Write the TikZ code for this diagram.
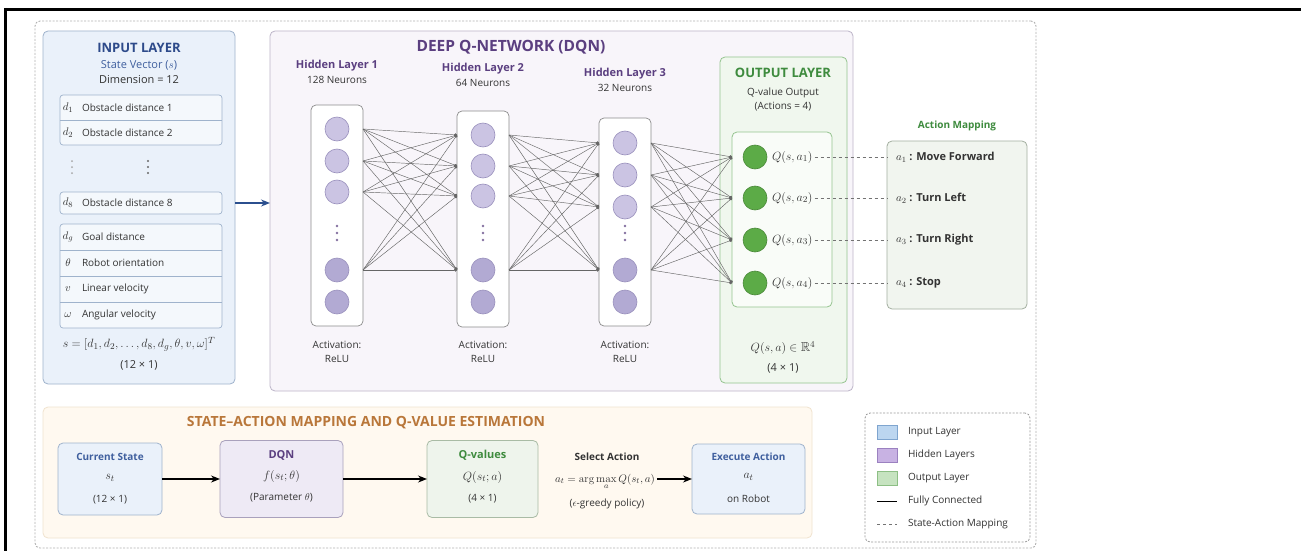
\documentclass[tikz,border=0pt]{standalone}
\usepackage{amssymb}
\usepackage[no-math]{fontspec}
\setmainfont{Open Sans}
\usetikzlibrary{shapes,arrows,arrows.meta,positioning}

\definecolor{inblue}{HTML}{EAF1FA}
\definecolor{inedge}{HTML}{9FB3CC}
\definecolor{intitle}{HTML}{2D4A8A}
\definecolor{inmid}{HTML}{3F5F9E}
\definecolor{arrowblue}{HTML}{2B4F8E}
\definecolor{dqnfill}{HTML}{F8F5FA}
\definecolor{dqnedge}{HTML}{BDB5C9}
\definecolor{dqntitle}{HTML}{5B3F80}
\definecolor{neuron}{HTML}{CBC4E3}
\definecolor{neurondk}{HTML}{B2AAD3}
\definecolor{neuronedge}{HTML}{9990BC}
\definecolor{outfill}{HTML}{F0F7EE}
\definecolor{outedge}{HTML}{95C48F}
\definecolor{outtitle}{HTML}{3E8B3E}
\definecolor{qgreen}{HTML}{5CAB47}
\definecolor{mapfill}{HTML}{F1F5EF}
\definecolor{mapedge}{HTML}{A3AFA0}
\definecolor{estfill}{HTML}{FFF9F0}
\definecolor{estedge}{HTML}{F0E3CF}
\definecolor{esttitle}{HTML}{B9773A}
\definecolor{dqnbfill}{HTML}{EEEAF5}
\definecolor{dqnbedge}{HTML}{A9A1BC}
\definecolor{qvfill}{HTML}{EEF4EC}
\definecolor{qvedge}{HTML}{A9BBA5}
\definecolor{txt}{HTML}{333333}
\definecolor{swblue}{HTML}{BCD6F0}
\definecolor{swblueedge}{HTML}{7FA5CF}
\definecolor{swpurple}{HTML}{C8B2E3}
\definecolor{swpurpleedge}{HTML}{9B81C0}
\definecolor{swgreen}{HTML}{C6E3C0}
\definecolor{swgreenedge}{HTML}{8DBF85}

\newcommand{\fsHead}{\fontsize{15.5}{17}\selectfont}
\newcommand{\fsTitle}{\fontsize{13}{15}\selectfont}
\newcommand{\fsText}{\fontsize{11}{13}\selectfont}
\newcommand{\fsSmall}{\fontsize{10}{12}\selectfont}
\newcommand{\fsMath}{\fontsize{13}{15}\selectfont}

\begin{document}
\begin{tikzpicture}[
    x=1pt, y=-1pt,
    every node/.style={inner sep=0pt, outer sep=0pt, text=txt},
    panel/.style={rectangle, draw, rounded corners=5pt, anchor=north west, line width=0.8pt},
    stepbox/.style={rectangle, draw, rounded corners=5pt, line width=0.8pt},
    rowbox/.style={rectangle, draw=inedge, fill=inblue!50!white, rounded corners=3pt, anchor=north west, line width=0.7pt},
    col/.style={rectangle, draw=black!45, fill=white, rounded corners=5pt, anchor=north, minimum width=52pt, line width=0.7pt},
    neuron/.style={circle, minimum size=24pt, fill=neuron, draw=neuronedge, line width=0.6pt},
    qnode/.style={circle, minimum size=24pt, fill=qgreen, draw=qgreen!80!black, line width=0.6pt},
    sym/.style={font=\fsText},
    lbl/.style={anchor=west, font=\fsSmall},
    link/.style={draw=black!60, line width=0.45pt, -{Circle[length=3pt]}},
    arrow/.style={-{Stealth[length=9pt, width=7pt]}, line width=1.3pt},
    maplink/.style={draw=black!55, dashed, line width=0.7pt}
]

\useasboundingbox (0,0) rectangle (1301,551);
\fill[white] (0,0) rectangle (1301,551);
\draw[line width=3pt] (4,9.5) -- (1301,9.5);
\draw[line width=3pt] (5.5,8) -- (5.5,551);
\node[panel, draw=black!30, dash pattern=on 2pt off 1.5pt, line width=0.9pt, minimum width=1001pt, minimum height=527pt] (frame) at (35,21) {};

% input layer
\node[panel, fill=inblue, draw=inedge, minimum width=192pt, minimum height=353pt] (inp) at (43,31) {};
\node[font=\bfseries\fsTitle, text=intitle] (inptitle) at (139,48) {INPUT LAYER};
\node[font=\fsText, text=inmid] (svec) at (139,65) {State Vector ($s$)};
\node[font=\fsText] (dim) at (139,80) {Dimension = 12};

\node[rowbox, minimum width=162pt, minimum height=50pt] (grpa) at (60,95) {};
\draw[inedge, line width=0.6pt] (60,120) -- (222,120);
\node[sym] (sa1) at (68,107.5) {$d_1$};
\node[lbl] (la1) at (82,107.5) {Obstacle distance 1};
\node[sym] (sa2) at (68,132.5) {$d_2$};
\node[lbl] (la2) at (82,132.5) {Obstacle distance 2};
\foreach \dy in {-6,0,6}{
  \fill[black!35] (72,{167+\dy}) circle (1pt);
  \fill[black!60] (148,{167+\dy}) circle (1.1pt);
}
\node[rowbox, minimum width=162pt, minimum height=22pt] (d8box) at (60,192) {};
\node[sym] (s8) at (68,203) {$d_8$};
\node[lbl] (l8) at (82,203) {Obstacle distance 8};
\node[rowbox, minimum width=162pt, minimum height=104pt] (grpb) at (60,224) {};
\foreach \y in {250,276,302} \draw[inedge, line width=0.6pt] (60,\y) -- (222,\y);
\foreach \sy/\lab [count=\i] in {d_g/Goal distance, \theta/Robot orientation, v/Linear velocity, \omega/Angular velocity}{
  \node[sym] (sb\i) at (68,{211+26*\i}) {$\sy$};
  \node[lbl] (lb\i) at (82,{211+26*\i}) {\lab};
}
\node[font=\fontsize{12.3}{14}\selectfont] (svecf) at (139,344) {$s=[d_1,d_2,\dots,d_8,d_g,\theta,v,\omega]^{T}$};
\node[font=\fsText] (sdim) at (139,365) {(12 × 1)};

% deep q-network
\node[panel, fill=dqnfill, draw=dqnedge, minimum width=583pt, minimum height=360pt] (dqn) at (270,31) {};
\draw[arrow, draw=arrowblue] (d8box.east -| inp.east) -- (d8box.east -| dqn.west);
\node[font=\bfseries\fsHead, text=dqntitle] (dqntitle) at (511,47) {DEEP Q-NETWORK (DQN)};

\foreach \c/\cx/\top/\h/\ya/\yb/\yc/\ty/\nn in {1/337/105/221/129/161/192/66/128, 2/483/111/216/135/166/196/69/64, 3/625/118/208/143/175/207/74/32}{
  \node[col, minimum height=\h pt] (col\c) at (\cx,\top) {};
  \node[font=\bfseries\fsText, text=dqntitle] (ht\c) at (\cx,\ty) {Hidden Layer \c};
  \node[font=\fsSmall] (hn\c) at (\cx,{\ty+14}) {\nn\ Neurons};
  \foreach \y [count=\k] in {\ya,\yb,\yc} \node[neuron] (h\c-\k) at (\cx,\y) {};
  \node[neuron, fill=neurondk] (h\c-4) at (\cx,270) {};
  \node[neuron, fill=neurondk] (h\c-5) at (\cx,302) {};
  \foreach \dy in {-7,0,7} \fill[dqntitle!75] (\cx,{233+\dy}) circle (1.3pt);
  \node[font=\fsSmall] (act\c) at (\cx,345) {Activation:};
  \node[font=\fsSmall] (relu\c) at (\cx,359) {ReLU};
}

% output layer
\node[panel, fill=outfill, draw=outedge, minimum width=127pt, minimum height=326pt] (outp) at (720,57) {};
\node[font=\bfseries\fsTitle, text=outtitle] (outtitle) at (783,73) {OUTPUT LAYER};
\node[font=\fsSmall] (qout) at (783,93) {Q-value Output};
\node[font=\fsSmall] (qact) at (783,107) {(Actions = 4)};
\node[panel, fill=white!60!outfill, draw=outedge, minimum width=100pt, minimum height=175pt] (qbox) at (732,132) {};
\foreach \y [count=\k] in {157,198,240,283}{
  \node[qnode] (q\k) at (755,\y) {};
  \node[anchor=west, font=\fsMath] (ql\k) at (772,\y) {$Q(s,a_{\k})$};
}
\node[font=\fsMath] (qdom) at (783,348) {$Q(s,a)\in\mathbb{R}^4$};
\node[font=\fsText] (qdim) at (783,368) {(4 × 1)};

% fully connected links
\foreach \i in {1,...,4}{
  \foreach \j in {1,...,4}{
    \draw[link] (col1.east |- h1-\i) -- (col2.west |- h2-\j);
    \draw[link] (col2.east |- h2-\i) -- (col3.west |- h3-\j);
    \draw[link] (col3.east |- h3-\i) -- (qbox.west |- q\j);
  }
}

% action mapping
\node[font=\bfseries\fsSmall, text=outtitle] (amtitle) at (957,126) {Action Mapping};
\node[panel, fill=mapfill, draw=mapedge, minimum width=140pt, minimum height=168pt] (amap) at (887,141) {};
\foreach \lab [count=\k] in {Move Forward, Turn Left, Turn Right, Stop}{
  \node[anchor=west, font=\bfseries\fsText, xshift=9pt] (am\k) at (amap.west |- q\k) {$a_{\k}$ : \lab};
  \draw[maplink, shorten <=2pt] (ql\k.east) -- (ql\k.east -| amap.west);
}

% state-action mapping
\node[panel, fill=estfill, draw=estedge, minimum width=769pt, minimum height=131pt] (est) at (43,407) {};
\node[font=\bfseries\fontsize{14}{16}\selectfont, text=esttitle] (esttitle) at (366,423) {STATE–ACTION MAPPING AND Q-VALUE ESTIMATION};

\node[stepbox, fill=inblue, draw=inedge, minimum width=104pt, minimum height=72pt] (cs) at (110,479) {};
\node[font=\bfseries\fsSmall, text=inmid] (cs1) at (110,457) {Current State};
\node[font=\fsMath] (cs2) at (110,478) {$s_t$};
\node[font=\fsSmall] (cs3) at (110,500) {(12 × 1)};

\node[stepbox, fill=dqnbfill, draw=dqnbedge, minimum width=123pt, minimum height=77pt] (dqnb) at (281.5,479) {};
\node[font=\bfseries\fsText, text=dqntitle] (dq1) at (281.5,455) {DQN};
\node[font=\fsMath] (dq2) at (281.5,476) {$f(s_t;\theta)$};
\node[font=\fsSmall] (dq3) at (281.5,498) {(Parameter $\theta$)};

\node[stepbox, fill=qvfill, draw=qvedge, minimum width=111pt, minimum height=77pt] (qv) at (482.5,479) {};
\node[font=\bfseries\fsText, text=outtitle] (qv1) at (482.5,455) {Q-values};
\node[font=\fsMath] (qv2) at (482.5,477) {$Q(s_t;a)$};
\node[font=\fsSmall] (qv3) at (482.5,499) {(4 × 1)};

\node[font=\bfseries\fsSmall] (sel1) at (607,457) {Select Action};
\node[font=\fsText] (sel2) at (605,482) {$a_t=\arg\max\limits_{a} Q(s_t,a)$};
\node[font=\fsSmall] (sel3) at (607,504) {($\epsilon$-greedy policy)};

\node[stepbox, fill=inblue, draw=inedge, minimum width=113pt, minimum height=70pt] (exe) at (748.5,479) {};
\node[font=\bfseries\fsSmall, text=inmid] (ex1) at (748.5,457) {Execute Action};
\node[font=\fsMath] (ex2) at (748.5,477) {$a_t$};
\node[font=\fsSmall] (ex3) at (748.5,499) {on Robot};

\draw[arrow] (cs) -- (dqnb);
\draw[arrow] (dqnb) -- (qv);
\draw[arrow, shorten <=2pt] (sel2.east |- exe.west) -- (exe.west);

% legend
\node[panel, fill=white, draw=black!40, dash pattern=on 2pt off 1.5pt, minimum width=165pt, minimum height=129pt] (legend) at (865,413) {};
\foreach \fc/\dc/\lab [count=\k] in {swblue/swblueedge/Input Layer, swpurple/swpurpleedge/Hidden Layers, swgreen/swgreenedge/Output Layer}{
  \node[rectangle, fill=\fc, draw=\dc, minimum width=20pt, minimum height=14pt] (sw\k) at (887,{409+23*\k}) {};
  \node[lbl] (lg\k) at (908,{409+23*\k}) {\lab};
}
\coordinate (fcA) at (877,501);
\coordinate (fcB) at (897,501);
\draw[line width=0.9pt] (fcA) -- (fcB);
\node[lbl] (lg4) at (908,501) {Fully Connected};
\coordinate (smA) at (877,524);
\coordinate (smB) at (897,524);
\draw[maplink] (smA) -- (smB);
\node[lbl] (lg5) at (908,524) {State-Action Mapping};

\end{tikzpicture}
\end{document}
